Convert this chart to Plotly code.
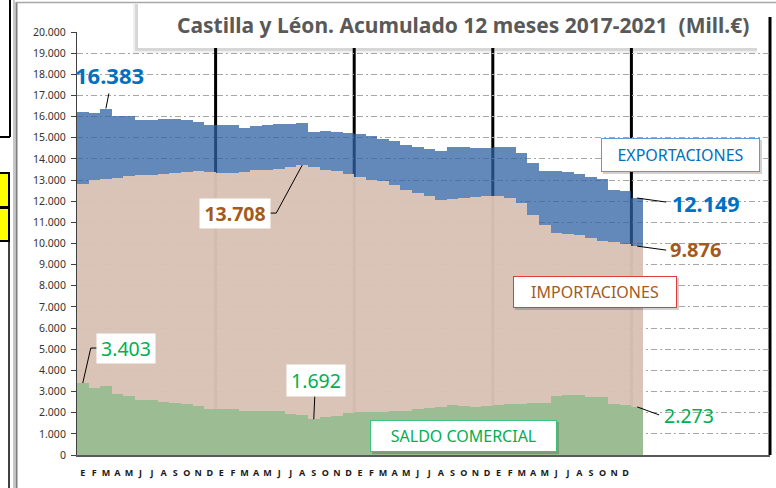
import plotly.graph_objects as go

# ---------------- data (millones de euros, acumulado 12 meses) ----------------
months = ["E", "F", "M", "A", "M", "J", "J", "A", "S", "O", "N", "D"]
years = [2017, 2018, 2019, 2020, 2021]
labelled_years = 4  # month letters shown under the first four years

exportaciones = [16220, 16170, 16383, 16040, 16010, 15860, 15850, 15870, 15900, 15850, 15760, 15620,
                 15620, 15600, 15470, 15570, 15600, 15660, 15630, 15700, 15270, 15320, 15260, 15220,
                 15180, 15070, 14950, 14830, 14670, 14540, 14480, 14380, 14540, 14540, 14510, 14520,
                 14540, 14580, 14300, 13820, 13410, 13430, 13380, 13300, 13150, 13030, 12540, 12460,
                 12149]
importaciones = [12820, 12980, 13050, 13080, 13180, 13220, 13250, 13300, 13350, 13400, 13420, 13380,
                 13330, 13330, 13360, 13460, 13470, 13530, 13640, 13708, 13600, 13490, 13410, 13300,
                 13140, 13010, 12940, 12780, 12540, 12380, 12230, 12070, 12100, 12150, 12190, 12230,
                 12230, 12150, 11910, 11360, 10880, 10520, 10460, 10410, 10250, 10130, 10050, 9970,
                 9876]
saldo = [3403, 3170, 3250, 2900, 2770, 2610, 2580, 2500, 2460, 2410, 2300, 2180,
         2180, 2190, 2070, 2070, 2070, 2070, 1950, 1900, 1692, 1820, 1860, 1970,
         2030, 2020, 2030, 2080, 2100, 2160, 2210, 2260, 2380, 2320, 2290, 2320,
         2370, 2400, 2400, 2450, 2480, 2810, 2820, 2820, 2760, 2730, 2420, 2380,
         2273]

title_text = "Castilla y Léon. Acumulado 12 meses 2017-2021  (Mill.€)"

# ---------------- geometry helpers ----------------
W, H = 776, 488
L, R, T, B = 77, 6, 32, 33
PW, PH = W - L - R, H - T - B
n_cat = 12 * len(years)
idx = list(range(len(exportaciones)))


def px(x):  # pixel -> paper x
    return (x - L) / PW


def py(y):  # pixel -> paper y
    return (H - B - y) / PH


def fmt(v):
    return f"{v:,}".replace(",", ".")


BLUE_T = "#0070C0"
BROWN_T = "#A35A1C"
GREEN_T = "#00B050"

fig = go.Figure()
fig.add_trace(go.Bar(x=idx, y=exportaciones, width=1, name="Exportaciones",
                     marker=dict(color="rgba(47,98,163,0.75)", line=dict(width=0))))
fig.add_trace(go.Bar(x=idx, y=importaciones, width=1, name="Importaciones",
                     marker=dict(color="rgba(233,204,182,0.88)", line=dict(width=0))))
fig.add_trace(go.Bar(x=idx, y=saldo, width=1, name="Saldo comercial",
                     marker=dict(color="rgba(149,189,143,0.9)", line=dict(width=0))))

shapes = []
# year separators (black, behind semi-transparent bars)
for k in range(1, len(years) + 1):
    xp = 12 * k / n_cat
    shapes.append(dict(type="line", xref="paper", yref="paper", x0=xp, x1=xp,
                       y0=0, y1=py(17), layer="below",
                       line=dict(color="black", width=3)))

# left spreadsheet remnants and chart frame
shapes += [
    dict(type="line", xref="paper", yref="paper", x0=px(10), x1=px(10), y0=py(0), y1=py(137),
         line=dict(color="black", width=2), layer="above"),
    dict(type="line", xref="paper", yref="paper", x0=px(0), x1=px(10), y0=py(137), y1=py(137),
         line=dict(color="black", width=2), layer="above"),
    dict(type="rect", xref="paper", yref="paper", x0=px(-2), x1=px(9), y0=py(173), y1=py(207),
         fillcolor="#FFFF00", line=dict(color="black", width=2), layer="above"),
    dict(type="rect", xref="paper", yref="paper", x0=px(-2), x1=px(9), y0=py(208), y1=py(241),
         fillcolor="#FFFF00", line=dict(color="black", width=2), layer="above"),
    dict(type="line", xref="paper", yref="paper", x0=px(9), x1=px(9), y0=py(241), y1=py(490),
         line=dict(color="black", width=1.5), layer="above"),
    dict(type="line", xref="paper", yref="paper", x0=px(14), x1=px(14), y0=py(0), y1=py(490),
         line=dict(color="#C8C8C8", width=2), layer="above"),
    dict(type="line", xref="paper", yref="paper", x0=px(16.5), x1=px(16.5), y0=py(2), y1=py(490),
         line=dict(color="#7F7F7F", width=2), layer="above"),
    dict(type="line", xref="paper", yref="paper", x0=px(16), x1=px(780), y0=py(2.5), y1=py(2.5),
         line=dict(color="#A6A6A6", width=1.5), layer="above"),
]

# title box with shadow
shapes += [
    dict(type="rect", xref="paper", yref="paper", x0=px(133), x1=px(757), y0=py(53), y1=py(4),
         fillcolor="rgba(0,0,0,0.06)", line=dict(width=0), layer="above"),
    dict(type="rect", xref="paper", yref="paper", x0=px(135), x1=px(757), y0=py(51), y1=py(4),
         fillcolor="rgba(0,0,0,0.10)", line=dict(width=0), layer="above"),
    dict(type="rect", xref="paper", yref="paper", x0=px(138), x1=px(757), y0=py(48), y1=py(4),
         fillcolor="white", line=dict(width=0), layer="above"),
]

# series name boxes shadows
for (x0, y0, x1, y1) in [(601, 138, 760, 172), (513, 276, 677, 308), (370, 420, 557, 452)]:
    shapes.append(dict(type="rect", xref="paper", yref="paper", x0=px(x0 + 2), x1=px(x1 + 2),
                       y0=py(y1 + 2), y1=py(y0 + 2), fillcolor="rgba(0,0,0,0.18)",
                       line=dict(width=0), layer="above"))


# leader lines anchored on data points (pixel offsets, y up)
def leader(i, v, path):
    shapes.append(dict(type="path", xref="x", yref="y", xsizemode="pixel", ysizemode="pixel",
                       xanchor=i, yanchor=v, path=path, layer="above",
                       line=dict(color="black", width=1)))


i_max_exp = exportaciones.index(max(exportaciones))
i_max_imp = importaciones.index(max(importaciones))
i_min_sal = saldo.index(min(saldo))
last = len(exportaciones) - 1

leader(i_max_exp, exportaciones[i_max_exp], "M0,0 L3,15")
leader(i_max_imp, importaciones[i_max_imp], "M0,0 L-26,-48 L-32,-48")
leader(0, saldo[0], "M0,0 L8,35 L14,35")
leader(i_min_sal, saldo[i_min_sal], "M0,0 L1,23")
leader(last, exportaciones[last], "M0,0 L29,-4")
leader(last, importaciones[last], "M0,0 L29,-4")
leader(last, saldo[last], "M0,0 L22,-8")

annotations = []


def value_label(i, v, text, color, dx, dy, size, bold, box=None):
    a = dict(xref="x", yref="y", x=i, y=v, text=text, showarrow=False,
             xshift=dx, yshift=dy, xanchor="center", yanchor="middle",
             font=dict(size=size, color=color, family="Noto Sans",
                       weight="bold" if bold else "normal"))
    if box:
        a.update(bgcolor="white", width=box[0], height=box[1], borderpad=0)
    annotations.append(a)


value_label(i_max_exp, exportaciones[i_max_exp], fmt(exportaciones[i_max_exp]), BLUE_T, 4, 34, 22, True)
value_label(i_max_imp, importaciones[i_max_imp], fmt(importaciones[i_max_imp]), BROWN_T, -67, -48, 19.5, True, (70, 29))
value_label(0, saldo[0], fmt(saldo[0]), GREEN_T, 43, 35, 19.5, False, (58, 29))
value_label(i_min_sal, saldo[i_min_sal], fmt(saldo[i_min_sal]), GREEN_T, 2, 39, 19.5, False, (58, 31))
value_label(last, exportaciones[last], fmt(exportaciones[last]), BLUE_T, 69, -5, 21.5, True)
value_label(last, importaciones[last], fmt(importaciones[last]), BROWN_T, 58, -3, 20, True)
value_label(last, saldo[last], fmt(saldo[last]), GREEN_T, 52, -9, 19.5, False)

# series name boxes
for text, cx, cy, w, h, border, color in [
    ("EXPORTACIONES", 680.5, 155, 157, 32, "#5B9BD5", BLUE_T),
    ("IMPORTACIONES", 595, 292, 162, 30, "#E03C3C", BROWN_T),
    ("SALDO COMERCIAL", 463.5, 436, 185, 30, "#3CC47A", GREEN_T),
]:
    annotations.append(dict(xref="paper", yref="paper", x=px(cx), y=py(cy), text=text,
                            showarrow=False, xanchor="center", yanchor="middle",
                            width=w, height=h, borderpad=0, bgcolor="white",
                            bordercolor=border, borderwidth=1,
                            font=dict(size=16, color=color, family="Noto Sans")))

# title
annotations.append(dict(xref="paper", yref="paper", x=px(463), y=py(25), text=title_text,
                        showarrow=False, xanchor="center", yanchor="middle",
                        font=dict(size=21, color="#595959", family="Noto Sans", weight="bold")))

tick_vals = list(range(12 * labelled_years))
tick_text = months * labelled_years

fig.update_layout(
    width=W, height=H, autosize=False,
    margin=dict(l=L, r=R, t=T, b=B, pad=0),
    paper_bgcolor="white", plot_bgcolor="rgba(0,0,0,0)",
    separators=",.",
    barmode="overlay", bargap=0,
    showlegend=False,
    font=dict(family="Noto Sans", color="#404040"),
    shapes=shapes, annotations=annotations,
    xaxis=dict(range=[-0.5, n_cat - 0.5], tickmode="array", tickvals=tick_vals, ticktext=tick_text,
               tickangle=0, tickfont=dict(size=9, color="#1A1A1A", weight="bold"),
               showgrid=False, zeroline=False, showline=True, linecolor="#595959", linewidth=2,
               ticks="", ticklabelstandoff=8),
    yaxis=dict(range=[0, 20000], dtick=1000, tickformat=",d",
               showgrid=True, gridcolor="#A6A6A6", gridwidth=1, griddash="6px,3px,2px,3px",
               zeroline=False, showline=True, linecolor="#404040", linewidth=1,
               ticks="outside", ticklen=5, tickcolor="#404040",
               tickfont=dict(size=10.5, color="#333333"), ticklabelstandoff=3),
)

fig.write_html("out.html", config={"displayModeBar": False},
               post_script="document.body.style.margin='0';document.body.style.overflow='hidden';")
